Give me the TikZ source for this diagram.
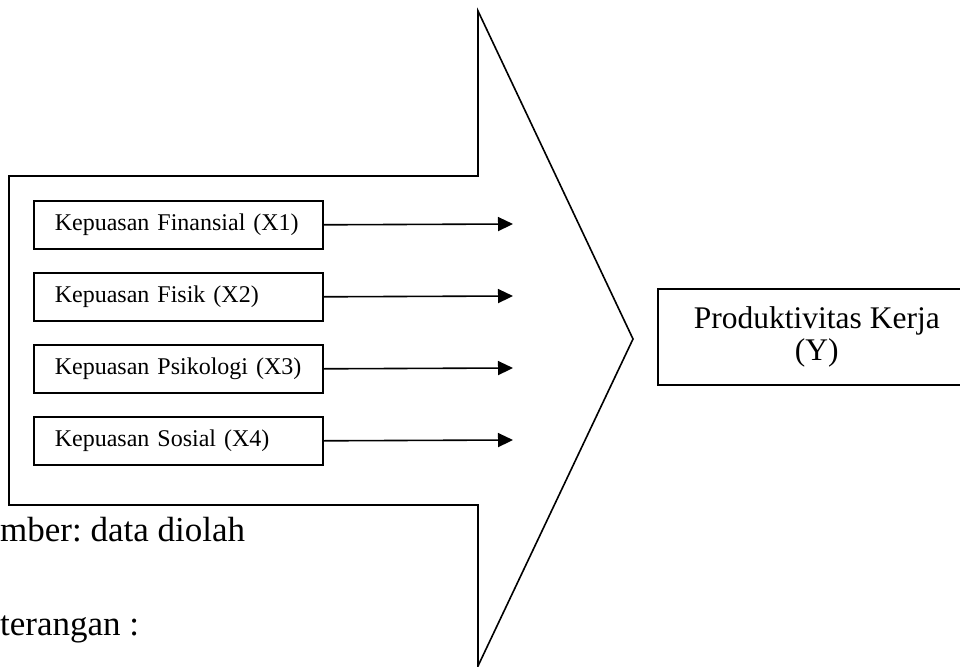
\documentclass[tikz,border=0pt]{standalone}
\usepackage{fontspec}
\setmainfont{Liberation Serif}
\usetikzlibrary{arrows.meta}
\frenchspacing
\tikzset{
  ln/.style={line width=1.6pt, draw=black},
  kbox/.style={ln, anchor=north west, minimum height=48pt, text width=247pt,
    inner xsep=21pt, inner ysep=0pt, align=left, font=\fontsize{24}{26}\selectfont},
  ybox/.style={ln, anchor=north west, minimum height=96pt, minimum width=318pt,
    inner sep=0pt, align=center, font=\fontsize{31.5}{31}\selectfont},
  conn/.style={ln, -{Triangle[length=15pt,width=14pt]}},
  note/.style={inner sep=0pt, anchor=base west, font=\fontsize{35}{36}\selectfont}
}
\begin{document}
\begin{tikzpicture}[x=1pt,y=-1pt]
\useasboundingbox (0,0) rectangle (960,666);
\begin{scope}
\clip (0,0) rectangle (960,666);
% big arrow
\draw[ln, line join=miter] (9,176) -- (478,176) -- (478,11) -- (633,339) -- (478,666) -- (478,505) -- (9,505) -- cycle;
% boxes
\node[kbox] (k1) at (33,200) {Kepuasan Finansial (X1)};
\node[kbox] (k2) at (33,272) {Kepuasan Fisik (X2)};
\node[kbox] (k3) at (33,344) {Kepuasan Psikologi (X3)};
\node[kbox] (k4) at (33,416) {Kepuasan Sosial (X4)};
\coordinate (t1) at (513,224);
\coordinate (t2) at (513,296);
\coordinate (t3) at (513,368);
\coordinate (t4) at (513,440);
\draw[conn] (k1.east) -- (t1);
\draw[conn] (k2.east) -- (t2);
\draw[conn] (k3.east) -- (t3);
\draw[conn] (k4.east) -- (t4);
% output box
\node[ybox] (y) at (657,288) {\raisebox{4pt}{\shortstack{Produktivitas Kerja\\(Y)}}};
% notes
\node[note] (n1) at (0,541) {mber: data diolah};
\node[note] (n2) at (0,635) {terangan :};
\end{scope}
\end{tikzpicture}
\end{document}
